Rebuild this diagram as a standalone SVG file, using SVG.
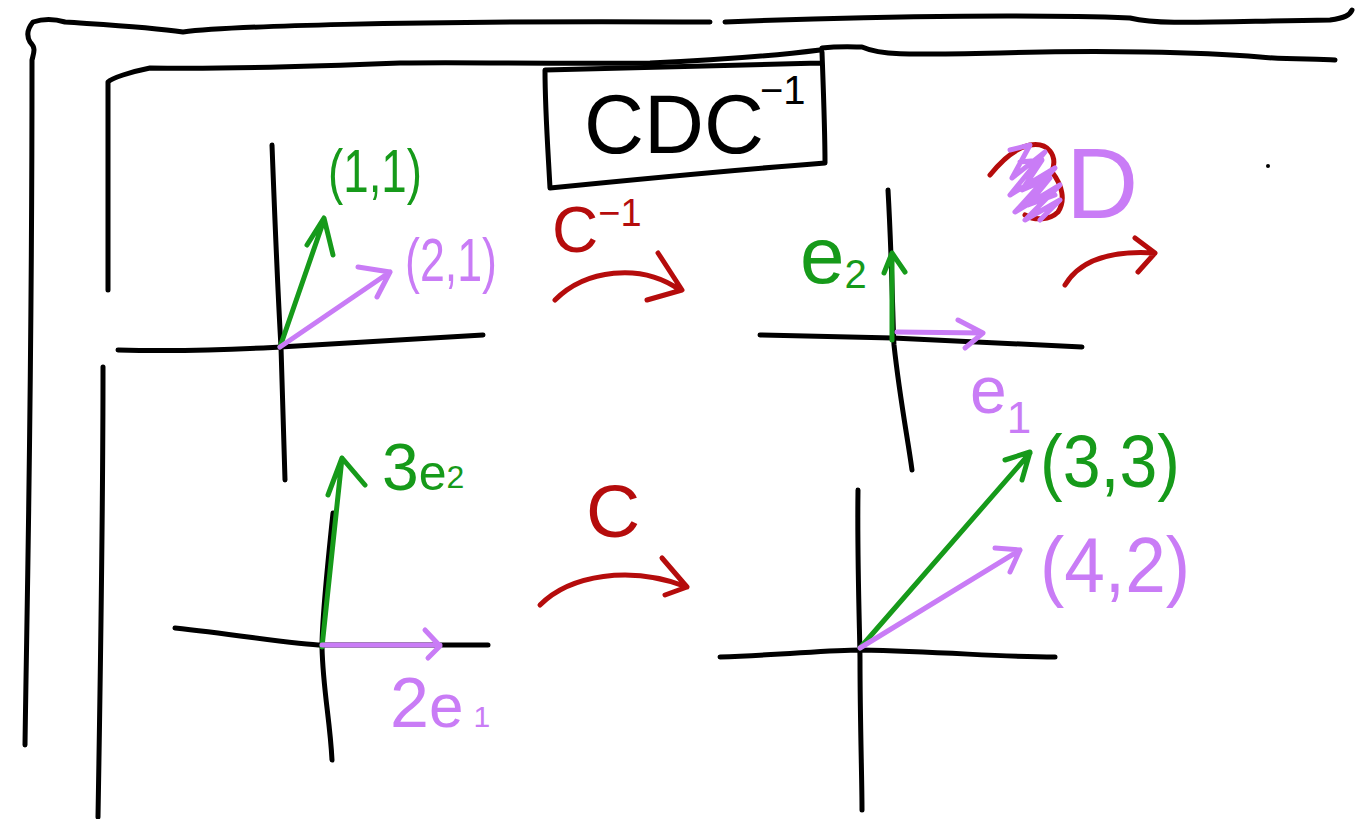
<svg xmlns="http://www.w3.org/2000/svg" width="1367" height="819" viewBox="0 0 1367 819">
<style>
.k{fill:none;stroke:#000;stroke-width:5;stroke-linecap:round;stroke-linejoin:round}
.g{fill:none;stroke:#169a1a;stroke-width:5;stroke-linecap:round;stroke-linejoin:round}
.p{fill:none;stroke:#c97cf6;stroke-width:5;stroke-linecap:round;stroke-linejoin:round}
.r{fill:none;stroke:#b50c0c;stroke-width:5;stroke-linecap:round;stroke-linejoin:round}
text{font-family:"Liberation Sans","DejaVu Sans",sans-serif}
.tg{fill:#169a1a}.tp{fill:#c97cf6}.tr{fill:#b50c0c}.tk{fill:#000}
</style>
<rect width="1367" height="819" fill="#fff"/>
<g id="frame">
<path class="k" d="M25,745 C27,600 32,400 32,60 C34,52 36,48 30,42 C26,35 28,28 33,22 C45,18 55,19 65,22 C110,25 150,27 183,32 C220,27 400,20 710,22"/>
<path class="k" d="M725,22 C900,15 1050,15 1130,18 C1160,25 1200,22 1330,20 C1345,18 1350,15 1352,10"/>
<path class="k" d="M98,817 C100,700 103,500 103,367"/>
<path class="k" d="M108,290 L108,82 C112,78 130,72 150,68 C200,69 300,67 400,63 C470,62 545,64 650,63 C720,60 780,55 820,50"/>
<path class="k" d="M822,48 C840,46 855,47 862,47 C880,55 900,55 1000,53 C1100,50 1200,52 1260,57 C1290,60 1320,58 1335,60"/>
<circle cx="1268" cy="166" r="2" fill="#000"/>
</g>
<g id="title">
<path class="k" d="M822,52 C823,80 825,130 825,163 C760,168 650,178 550,188 C548,150 545,110 545,70 L820,63"/>
<text class="tk" x="584" y="153" font-size="83">CDC</text>
<text class="tk" x="760" y="104" font-size="40">−1</text>
</g>
<g id="graph1">
<path class="k" d="M272,145 C276,250 280,330 281,347 C283,400 284,440 285,480"/>
<path class="k" d="M118,350 C200,352 260,348 280,347 L483,335"/>
<path class="g" d="M280,347 L324,220 M307,245 L324,218 L333,255"/>
<path class="p" d="M280,347 L390,272 M358,267 L390,272 L377,297"/>
<text class="tg" x="328" y="192" font-size="62" textLength="94" lengthAdjust="spacingAndGlyphs">(1,1)</text>
<text class="tp" x="405" y="281" font-size="62" textLength="92" lengthAdjust="spacingAndGlyphs">(2,1)</text>
</g>
<g id="graph2">
<path class="k" d="M888,190 C892,260 893,330 894,345 C900,400 908,440 912,470"/>
<path class="k" d="M760,335 L893,338 L1082,347"/>
<path class="g" d="M892,340 L892,253 M884,273 L892,253 L905,272"/>
<path class="p" d="M897,332 L983,333 M958,320 L983,333 L965,348"/>
<text class="tg" x="800" y="283" font-size="80">e<tspan font-size="40" dy="5">2</tspan></text>
<text class="tp" x="970" y="413" font-size="66">e<tspan font-size="44" dy="20">1</tspan></text>
</g>
<g id="graph3">
<path class="k" d="M333,513 C328,560 322,620 322,647 C323,690 330,720 332,760"/>
<path class="k" d="M175,628 C240,635 300,645 322,645 L488,645"/>
<path class="g" d="M322,647 L342,458 M328,495 L342,458 L365,485"/>
<path class="p" d="M322,645 L440,645 M425,630 L440,646 L428,658"/>
<text class="tg" x="382" y="490" font-size="66">3<tspan font-size="50">e</tspan><tspan font-size="32" dy="-2">2</tspan></text>
<text class="tp" x="390" y="727" font-size="70">2<tspan font-size="62">e</tspan><tspan font-size="30" dx="10">1</tspan></text>
</g>
<g id="graph4">
<path class="k" d="M858,490 C857,560 860,640 860,660 C860,720 862,780 862,810"/>
<path class="k" d="M720,657 C780,655 830,650 860,650 C950,652 1000,657 1055,657"/>
<path class="g" d="M860,648 L1030,453 M1005,460 L1030,452 L1022,480"/>
<path class="p" d="M860,648 L1020,550 M995,548 L1020,550 L1010,572"/>
<text class="tg" x="1040" y="487" font-size="74" textLength="140" lengthAdjust="spacingAndGlyphs">(3,3)</text>
<text class="tp" x="1040" y="592" font-size="78" textLength="150" lengthAdjust="spacingAndGlyphs">(4,2)</text>
</g>
<g id="labelD">
<path class="r" d="M990,175 C1002,160 1015,148 1030,145 C1048,142 1058,155 1052,172 C1062,185 1066,200 1058,212 C1050,220 1035,221 1025,215"/>
<path class="p" stroke-width="5" d="M1010,150 L1030,145 L1012,178 L1045,152 L1010,195 L1055,168 L1015,212 L1060,185 L1025,220 L1060,200 L1040,220 M1020,162 L1042,160 L1022,190 L1050,178 L1028,205 L1055,195"/>
<text class="tp" x="1066" y="218" font-size="100">D</text>
</g>
<g id="connectors">
<path class="r" d="M555,300 C585,270 640,262 680,290 M658,253 L682,290 L647,300"/>
<text class="tr" x="552" y="252" font-size="64">C<tspan font-size="38" dy="-26">−1</tspan></text>
<path class="r" d="M1065,285 C1080,260 1110,250 1155,253 M1135,238 L1155,253 L1138,272"/>
<path class="r" d="M540,605 C570,575 630,565 687,587 M662,558 L687,587 L665,595"/>
<text class="tr" x="586" y="537" font-size="75">C</text>
</g>
</svg>
